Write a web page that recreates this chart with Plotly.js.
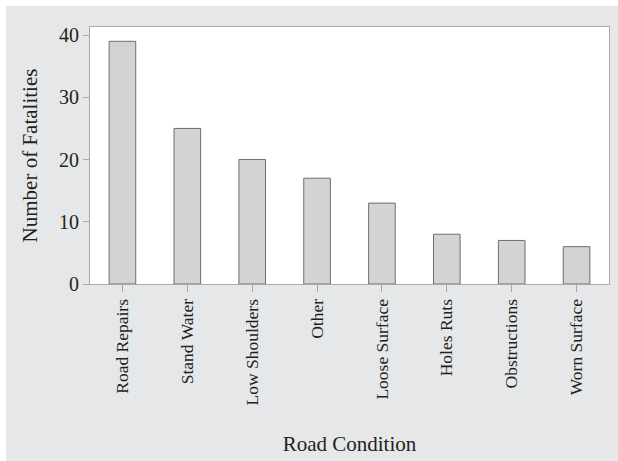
<!DOCTYPE html>
<html><head><meta charset="utf-8">
<script src="https://cdn.plot.ly/plotly-3.0.1.min.js"></script>
<style>html,body{margin:0;padding:0;background:#fff;}#chart{position:absolute;left:6px;top:6px;width:612px;height:455px;}</style>
</head><body><div id="chart"></div>
<script>
const categories = ["Road Repairs","Stand Water","Low Shoulders","Other","Loose Surface","Holes Ruts","Obstructions","Worn Surface"];
const fatalities = [39,25,20,17,13,8,7,6];
const yTicks = [0,10,20,30,40];

const font = "Liberation Serif, Times New Roman, serif";
Plotly.newPlot('chart', [{
  type: 'bar', x: categories, y: fatalities,
  marker: {color: '#d3d3d4', line: {color: '#6e6e6e', width: 1}},
  hoverinfo: 'skip'
}], {
  width: 612, height: 455,
  paper_bgcolor: '#e6e7e8', plot_bgcolor: '#ffffff',
  margin: {l: 84, r: 9, t: 21, b: 177},
  bargap: 0.59,
  font: {family: font, size: 18, color: '#231f20'},
  showlegend: false,
  xaxis: {
    type: 'category', tickangle: -90, ticks: 'outside', ticklen: 7, tickcolor: '#a7a9ac',
    showline: true, linecolor: '#a7a9ac', linewidth: 1, mirror: true, showgrid: false,
    tickfont: {family: font, size: 17.5, color: '#231f20'},
    title: {text: 'Road Condition', font: {family: font, size: 21, color: '#231f20'}, standoff: 31}
  },
  yaxis: {
    range: [0, 41.3], tickvals: yTicks, ticks: 'outside', ticklen: 6, tickcolor: '#a7a9ac',
    showline: true, linecolor: '#a7a9ac', linewidth: 1, mirror: true, showgrid: false, zeroline: false,
    tickfont: {family: font, size: 20, color: '#231f20'},
    title: {text: 'Number of Fatalities', font: {family: font, size: 21, color: '#231f20'}, standoff: 15}
  }
}, {staticPlot: true});
</script></body></html>
